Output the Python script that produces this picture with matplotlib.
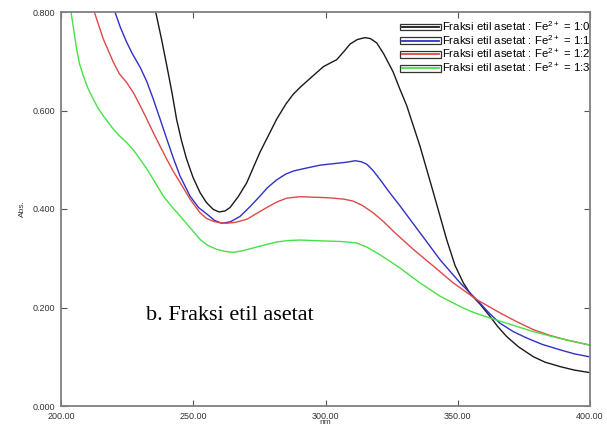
import numpy as np
import matplotlib
matplotlib.use("Agg")
import matplotlib.pyplot as plt
from matplotlib.patches import Rectangle
from matplotlib.lines import Line2D
from matplotlib.legend_handler import HandlerBase

plt.rcParams['font.family'] = ['Liberation Sans', 'DejaVu Sans']
plt.rcParams['mathtext.default'] = 'regular'

# UV-Vis spectra, wavelength (nm) vs absorbance
wl_10 = [235.8, 238.0, 240.0, 242.0, 243.7, 245.5, 247.5, 250.0, 252.6, 255.0, 257.6, 259.8,
         262.0, 263.9, 267.0, 270.2, 275.2, 281.5, 285.0, 287.8, 290.4, 295.4, 299.2, 302.0,
         304.2, 307.0, 309.3, 312.0, 314.9, 317.0, 319.4, 322.0, 325.6, 328.0, 330.7, 335.7,
         340.8, 345.8, 349.0, 352.1, 355.0, 358.4, 362.2, 365.0, 368.5, 373.0, 378.6, 383.0,
         388.7, 394.0, 399.7]
abs_10 = [0.800, 0.745, 0.691, 0.635, 0.582, 0.540, 0.501, 0.463, 0.433, 0.413, 0.399, 0.394,
          0.396, 0.403, 0.425, 0.453, 0.515, 0.582, 0.613, 0.633, 0.647, 0.671, 0.689, 0.697,
          0.703, 0.720, 0.735, 0.744, 0.748, 0.746, 0.737, 0.715, 0.678, 0.645, 0.610, 0.528,
          0.433, 0.338, 0.285, 0.250, 0.226, 0.207, 0.182, 0.162, 0.141, 0.120, 0.100, 0.089,
          0.080, 0.073, 0.068]

wl_11 = [220.4, 222.5, 224.8, 227.0, 229.9, 232.5, 234.9, 237.5, 240.0, 242.5, 245.0, 248.8,
         252.0, 255.1, 258.0, 260.8, 264.0, 267.7, 271.5, 275.2, 278.0, 281.5, 285.0, 287.8,
         291.0, 297.9, 303.0, 308.0, 311.2, 313.5, 315.6, 318.0, 320.6, 324.0, 328.2, 335.7,
         343.3, 350.9, 358.4, 362.0, 366.0, 371.0, 376.1, 382.0, 388.7, 394.0, 399.7]
abs_11 = [0.800, 0.768, 0.739, 0.715, 0.688, 0.658, 0.623, 0.582, 0.542, 0.503, 0.467, 0.426,
          0.403, 0.390, 0.377, 0.371, 0.374, 0.385, 0.405, 0.426, 0.443, 0.459, 0.471, 0.477,
          0.481, 0.489, 0.492, 0.495, 0.498, 0.496, 0.491, 0.478, 0.460, 0.435, 0.406, 0.352,
          0.297, 0.250, 0.209, 0.188, 0.168, 0.151, 0.138, 0.125, 0.114, 0.106, 0.100]

wl_12 = [212.6, 216.0, 219.8, 222.0, 224.8, 227.5, 229.9, 232.5, 234.9, 237.5, 240.0, 242.5,
         245.0, 248.8, 252.6, 255.0, 257.6, 260.0, 262.6, 266.0, 270.2, 274.0, 277.8, 281.5,
         285.3, 290.4, 295.0, 300.4, 303.0, 307.0, 310.5, 314.0, 318.1, 322.0, 325.6, 333.2,
         340.8, 348.3, 357.2, 366.0, 372.0, 378.6, 385.0, 391.2, 399.7]
abs_12 = [0.800, 0.745, 0.698, 0.675, 0.657, 0.635, 0.610, 0.582, 0.555, 0.527, 0.501, 0.476,
          0.454, 0.420, 0.392, 0.381, 0.375, 0.372, 0.371, 0.373, 0.379, 0.391, 0.403, 0.414,
          0.422, 0.425, 0.424, 0.423, 0.422, 0.420, 0.416, 0.407, 0.392, 0.374, 0.355, 0.318,
          0.284, 0.250, 0.216, 0.189, 0.172, 0.155, 0.143, 0.134, 0.124]

wl_13 = [203.8, 205.0, 205.9, 207.0, 208.4, 210.2, 212.2, 214.0, 216.0, 219.8, 222.0, 224.8,
         227.5, 229.9, 232.5, 234.9, 238.7, 242.0, 245.0, 248.8, 252.6, 255.5, 258.9, 262.0,
         265.1, 268.5, 272.7, 277.0, 281.5, 286.0, 290.4, 295.0, 300.4, 306.0, 311.8, 315.5,
         319.4, 323.5, 328.2, 335.7, 343.3, 350.9, 355.0, 359.7, 368.5, 378.6, 385.0, 391.2,
         399.7]
abs_13 = [0.800, 0.757, 0.725, 0.695, 0.671, 0.645, 0.623, 0.605, 0.589, 0.562, 0.549, 0.535,
          0.519, 0.501, 0.481, 0.460, 0.426, 0.404, 0.386, 0.362, 0.338, 0.326, 0.318, 0.314,
          0.312, 0.315, 0.321, 0.327, 0.333, 0.336, 0.337, 0.336, 0.335, 0.334, 0.331, 0.323,
          0.311, 0.297, 0.280, 0.250, 0.223, 0.202, 0.192, 0.183, 0.168, 0.151, 0.142, 0.134,
          0.124]

labels = ['Fraksi etil asetat : Fe$^{2+}$ = 1:0',
          'Fraksi etil asetat : Fe$^{2+}$ = 1:1',
          'Fraksi etil asetat : Fe$^{2+}$ = 1:2',
          'Fraksi etil asetat : Fe$^{2+}$ = 1:3']
colors = ['#1a1a1a', '#3030c8', '#e04848', '#48e048']

xticks = [200, 250, 300, 350, 400]
yticks = [0.0, 0.2, 0.4, 0.6, 0.8]


class BoxLineHandler(HandlerBase):
    # legend key: outlined box with the series colour running through it
    def create_artists(self, legend, orig_handle, xdescent, ydescent,
                       width, height, fontsize, trans):
        box = Rectangle((-xdescent, -ydescent + height * 0.12), width, height * 0.76,
                        facecolor='none', edgecolor='#333333', lw=0.9, transform=trans)
        ln = Line2D([-xdescent + 1.5, -xdescent + width - 1.5],
                    [-ydescent + height / 2] * 2, color=orig_handle.get_color(),
                    lw=1.3, transform=trans)
        return [box, ln]


fig = plt.figure(figsize=(6.07, 4.26), dpi=100)
ax = fig.add_axes([61 / 607, 20 / 426, 529 / 607, 394 / 426])

handles = []
for wl, a, c in zip([wl_10, wl_11, wl_12, wl_13], [abs_10, abs_11, abs_12, abs_13], colors):
    h, = ax.plot(wl, a, color=c, lw=1.0)
    handles.append(h)

ax.set_xlim(200, 400)
ax.set_ylim(0, 0.8)
ax.set_xticks(xticks)
ax.set_xticklabels(['%.2f' % v for v in xticks])
ax.set_yticks(yticks)
ax.set_yticklabels(['%.3f' % v for v in yticks])
ax.tick_params(direction='in', length=4, width=0.8, color='#555555',
               labelsize=6.5, labelcolor='#333333', top=True, right=True, pad=4)
for s in ax.spines.values():
    s.set_color('#808080')
    s.set_linewidth(1.3)

ax.set_xlabel('nm', fontsize=6, color='#333333', labelpad=-1)
ax.set_ylabel('Abs.', fontsize=6, color='#333333', labelpad=5)

ax.legend(handles, labels, handler_map={Line2D: BoxLineHandler()},
          loc='upper right', bbox_to_anchor=(1.003, 0.985), frameon=False,
          fontsize=8.2, handlelength=3.6, handleheight=0.8, handletextpad=0.1,
          labelspacing=0.0, borderaxespad=0.0, borderpad=0.1)

fig.text(146 / 607, (426 - 320) / 426, 'b. Fraksi etil asetat',
         family=['Liberation Serif', 'DejaVu Serif'], fontsize=16, va='baseline')

fig.savefig('out.png', dpi=100)
